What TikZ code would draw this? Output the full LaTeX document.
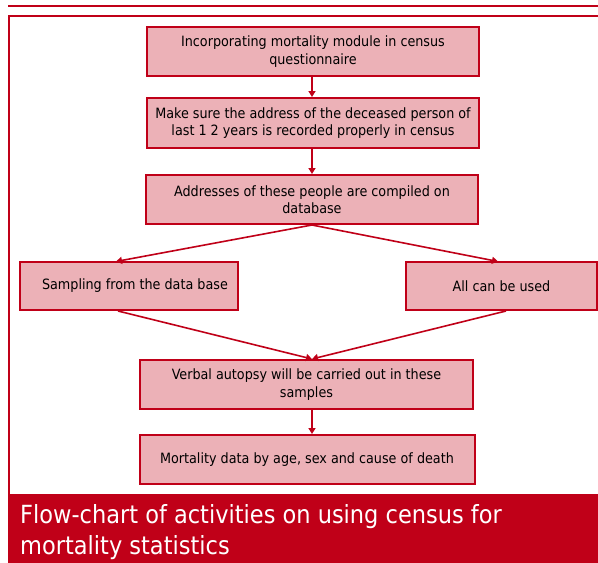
\documentclass[tikz,border=0pt]{standalone}
\usepackage{fontspec}
\setmainfont{DejaVu Sans Condensed}
\usetikzlibrary{arrows.meta}
\definecolor{dred}{HTML}{C00018}
\definecolor{pinkfill}{HTML}{ECB1B7}
\tikzset{
  box/.style={draw=dred, line width=2pt, fill=pinkfill, inner sep=0pt, align=center, font=\fontsize{14.2}{17.5}\selectfont},
  conn/.style={draw=dred, line width=1.6pt, -{Triangle[length=6pt,width=7pt]}}
}
\begin{document}
\begin{tikzpicture}[x=1pt,y=-1pt]
\useasboundingbox (0,0) rectangle (598,563);
\fill[white] (0,0) rectangle (598,563);
% top rule and frame
\draw[dred, line width=2pt] (8,6) -- (598,6);
\draw[dred, line width=2pt] (598,16) -- (8.5,16) -- (8.5,494);
% banner
\fill[dred] (8,494) rectangle (598,563);
\node[anchor=west, text=white, font=\fontsize{25}{31.5}\selectfont, align=left, inner sep=0pt] (title) at (20,532) {Flow-chart of activities on using census for\\mortality statistics};
% boxes
\node[box, minimum width=332pt, minimum height=49pt] (b1) at (313,51.5) {Incorporating mortality module in census\\questionnaire};
\node[box, minimum width=332pt, minimum height=50pt] (b2) at (313,123) {Make sure the address of the deceased person of\\last 1 2 years is recorded properly in census};
\node[box, minimum width=332pt, minimum height=49pt] (b3) at (312,199.5) {Addresses of these people are compiled on\\database};
\node[box, minimum width=218pt, minimum height=48pt] (bl) at (129,286) {\hspace*{12pt}Sampling from the data base};
\node[box, minimum width=191pt, minimum height=48pt] (br) at (501.5,286) {All can be used};
\node[box, minimum width=333pt, minimum height=49pt] (bv) at (306.5,384.5) {Verbal autopsy will be carried out in these\\samples};
\node[box, minimum width=335pt, minimum height=49pt] (bm) at (307,459.5) {Mortality data by age, sex and cause of death};
% connectors
\coordinate (m) at (312,359);
\draw[conn] (b1.south -| 312,0) -- (b2.north -| 312,0);
\draw[conn] (b2.south -| 312,0) -- (b3.north -| 312,0);
\draw[conn] (b3.south) -- (116,261.5);
\draw[conn] (b3.south) -- (498,261.5);
\draw[conn] (bl.south -| 118,0) -- (m);
\draw[conn] (br.south -| 506,0) -- (m);
\draw[conn] (bv.south -| 312,0) -- (bm.north -| 312,0);
\end{tikzpicture}
\end{document}
